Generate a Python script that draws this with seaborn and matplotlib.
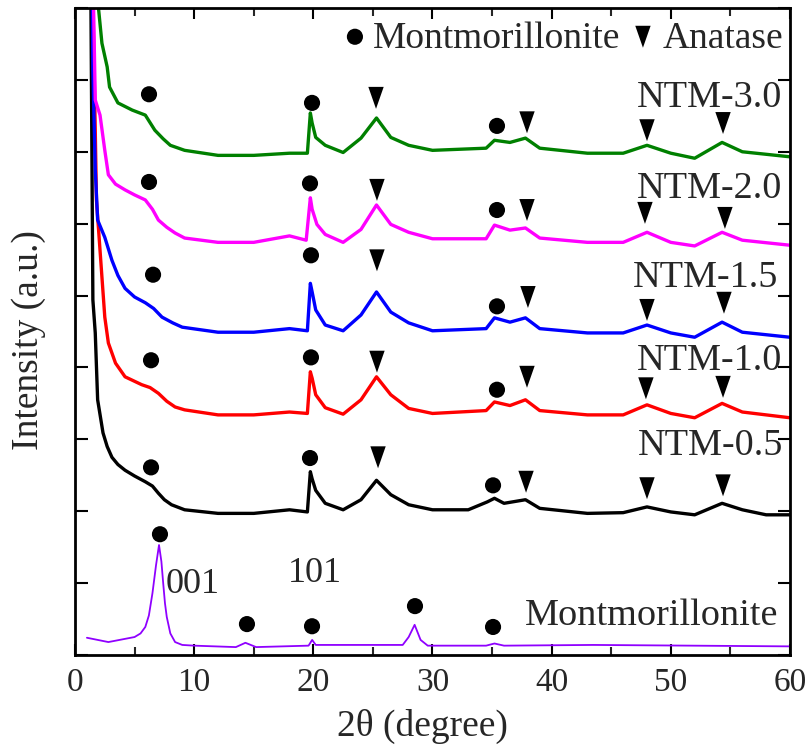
import matplotlib
matplotlib.use("Agg")
import matplotlib.pyplot as plt
import seaborn as sns
import pandas as pd
from matplotlib.ticker import MultipleLocator, NullFormatter

# ---------------- data ----------------
mmt_x = [1.0, 2.8, 5.0, 5.5, 5.9, 6.2, 6.5, 6.8, 7.05, 7.25, 7.4, 7.55, 7.7, 8.0, 8.4, 9.0, 10,
         13.5, 14.3, 15.2, 19.6, 19.9, 20.2, 27.5, 28.0, 28.5, 29.0, 29.6, 34.5, 35.2, 36, 43.5, 60]
mmt_y = [0.24, 0.18, 0.25, 0.30, 0.39, 0.55, 0.86, 1.25, 1.53, 1.30, 1.00, 0.72, 0.53, 0.30, 0.18, 0.14, 0.13,
         0.11, 0.17, 0.11, 0.13, 0.21, 0.14, 0.14, 0.25, 0.42, 0.21, 0.13, 0.13, 0.16, 0.13, 0.14, 0.12]

n05_x = [1.3, 1.5, 1.7, 1.9, 2.35, 2.7, 3.1, 3.6, 4.2, 5.0, 5.9, 6.5, 7.0, 7.5, 8.1, 9.2, 12, 15, 18, 19.5,
         19.75, 19.9, 20.2, 21, 22.5, 24, 25.3, 26.5, 28, 30, 33, 34.6, 35.2, 36, 37.8, 39, 43, 46, 48, 50,
         52, 54.3, 56, 58, 60]
n05_y = [10, 4.94, 4.48, 3.55, 3.09, 2.90, 2.75, 2.65, 2.57, 2.49, 2.41, 2.35, 2.25, 2.16, 2.09, 2.02, 1.97,
         1.97, 2.02, 1.99, 2.55, 2.45, 2.29, 2.11, 2.02, 2.16, 2.43, 2.23, 2.09, 2.02, 2.02, 2.13, 2.18, 2.11,
         2.16, 2.04, 1.97, 1.98, 2.06, 1.99, 1.95, 2.11, 2.02, 1.95, 1.95]

n10_x = [1.4, 1.7, 1.8, 2.1, 2.5, 2.8, 3.4, 4.2, 5.6, 6.3, 7.0, 7.7, 8.4, 9.2, 12, 15, 18, 19.5, 19.75, 19.9,
         20.2, 21, 22.5, 24, 25.3, 26.5, 28, 30, 34.5, 35.2, 36.5, 37.8, 39, 43, 46, 48, 50, 52, 54.3, 56, 60]
n10_y = [10, 7.30, 6.33, 5.63, 4.70, 4.34, 4.06, 3.87, 3.76, 3.72, 3.64, 3.53, 3.45, 3.41, 3.34, 3.34, 3.38,
         3.36, 3.94, 3.85, 3.62, 3.44, 3.35, 3.55, 3.87, 3.62, 3.43, 3.36, 3.40, 3.52, 3.47, 3.55, 3.40, 3.34,
         3.34, 3.48, 3.36, 3.30, 3.50, 3.38, 3.30]

n15_x = [1.4, 1.5, 1.7, 1.9, 2.5, 3.1, 3.6, 4.2, 5.0, 5.9, 6.6, 7.3, 8.2, 9.0, 12, 15, 18, 19.5, 19.75, 19.9,
         20.2, 21, 22.5, 24, 25.3, 26.5, 28, 30, 34.5, 35.2, 36.5, 37.8, 39, 43, 46, 48, 50, 52, 54.3, 56, 60]
n15_y = [10, 8.14, 6.75, 6.05, 5.81, 5.49, 5.28, 5.10, 4.98, 4.90, 4.82, 4.70, 4.62, 4.56, 4.49, 4.49, 4.54,
         4.51, 5.17, 5.05, 4.80, 4.59, 4.51, 4.73, 5.05, 4.77, 4.62, 4.51, 4.54, 4.69, 4.63, 4.69, 4.54, 4.48,
         4.48, 4.59, 4.48, 4.42, 4.63, 4.49, 4.42]

n20_x = [1.45, 1.7, 2.1, 2.5, 2.8, 3.4, 4.2, 5.0, 5.9, 6.5, 7.0, 7.7, 8.4, 9.2, 12, 15, 18, 19.4, 19.75, 19.9,
         20.3, 21, 22.5, 24, 25.3, 26.5, 28, 30, 34.5, 35.2, 36.5, 37.8, 39, 43, 46, 48, 50, 52, 54.3, 56, 60]
n20_y = [10, 7.72, 7.51, 7.02, 6.68, 6.55, 6.47, 6.40, 6.33, 6.20, 6.05, 5.95, 5.87, 5.80, 5.74, 5.74, 5.83,
         5.77, 6.36, 6.20, 5.99, 5.85, 5.74, 5.92, 6.26, 5.99, 5.88, 5.79, 5.79, 5.98, 5.91, 5.94, 5.80, 5.74,
         5.74, 5.88, 5.74, 5.69, 5.88, 5.77, 5.70]

n30_x = [1.85, 2.26, 2.7, 2.9, 3.6, 4.8, 5.9, 6.7, 7.4, 8.0, 9.2, 12, 15, 18, 19.5, 19.75, 19.9, 20.2, 21,
         22.5, 24, 25.3, 26.5, 28, 30, 34.5, 35.2, 36.5, 37.8, 39, 43, 46, 48, 50, 52, 54.3, 56, 60]
n30_y = [9.2, 8.51, 8.18, 7.90, 7.68, 7.58, 7.51, 7.30, 7.18, 7.09, 7.02, 6.95, 6.95, 6.98, 6.98, 7.54, 7.40,
         7.20, 7.09, 6.99, 7.19, 7.47, 7.20, 7.09, 7.02, 7.05, 7.16, 7.13, 7.19, 7.05, 6.98, 6.98, 7.09, 6.98,
         6.91, 7.13, 7.00, 6.93]

# peak markers: montmorillonite (circles) and anatase (triangles)
circle_x = [6.21, 19.89, 35.41, 6.21, 19.72, 35.41, 6.55, 19.80, 35.41, 6.38, 19.80, 35.41,
            6.38, 19.72, 35.08, 7.13, 14.43, 19.89, 28.53, 35.08]
circle_y = [7.80, 7.68, 7.36, 6.58, 6.56, 6.19, 5.29, 5.56, 4.85, 4.10, 4.14, 3.69,
            2.61, 2.74, 2.36, 1.68, 0.43, 0.40, 0.68, 0.39]
tri_x = [25.26, 37.93, 48.00, 54.38, 25.34, 37.93, 47.83, 54.54, 25.34, 38.01, 48.00, 54.46,
         25.34, 37.93, 47.91, 54.38, 25.43, 37.85, 48.00, 54.38]
tri_y = [7.75, 7.41, 7.30, 7.40, 6.47, 6.19, 6.15, 6.08, 5.49, 4.98, 4.80, 4.90,
         4.08, 3.87, 3.71, 3.73, 2.75, 2.41, 2.32, 2.36]

sample_names = ["NTM-3.0", "NTM-2.0", "NTM-1.5", "NTM-1.0", "NTM-0.5", "Montmorillonite"]
sample_label_x = [59.33, 59.33, 59.0, 59.33, 59.4, 59.0]
sample_label_y = [7.62, 6.36, 5.12, 3.96, 2.78, 0.42]

# ---------------- style ----------------
sns.set_theme(style="ticks")
plt.rcParams["font.family"] = ["Liberation Serif", "DejaVu Serif"]

fig = plt.figure(figsize=(8.12, 7.53), dpi=100)
ax = fig.add_axes([75 / 812, 98 / 753, 715 / 812, 647 / 753])

curves = [
    (mmt_x, mmt_y, "#8F00FF", 1.3),
    (n05_x, n05_y, "black", 2.4),
    (n10_x, n10_y, "#FF0000", 2.4),
    (n15_x, n15_y, "#0000FF", 2.4),
    (n20_x, n20_y, "#FF00FF", 2.4),
    (n30_x, n30_y, "#008000", 2.4),
]
for xs, ys, col, lw in curves:
    df = pd.DataFrame({"x": xs, "y": ys})
    sns.lineplot(data=df, x="x", y="y", ax=ax, color=col, lw=lw, sort=False, estimator=None)

tri_marker = [(-0.7, 1.0), (0.7, 1.0), (0.0, -1.0), (-0.7, 1.0)]
sns.scatterplot(x=circle_x, y=circle_y, ax=ax, marker="o", s=135, color="black", edgecolor="none", zorder=5)
sns.scatterplot(x=tri_x, y=tri_y, ax=ax, marker=tri_marker, s=250, color="black", edgecolor="none", zorder=5)

# legend-like header
sns.scatterplot(x=[23.49], y=[8.60], ax=ax, marker="o", s=135, color="black", edgecolor="none", zorder=5)
sns.scatterplot(x=[47.66], y=[8.60], ax=ax, marker=tri_marker, s=250, color="black", edgecolor="none", zorder=5)
ax.text(25.0, 8.44, "Montmorillonite", fontsize=27, ha="left", va="baseline")
ax.text(49.3, 8.44, "Anatase", fontsize=27, ha="left", va="baseline")

for name, lx, ly in zip(sample_names, sample_label_x, sample_label_y):
    ax.text(lx, ly, name, fontsize=27.5, ha="right", va="baseline")

ax.text(7.64, 0.86, "001", fontsize=26, ha="left", va="baseline")
ax.text(17.87, 1.02, "101", fontsize=26, ha="left", va="baseline")

ax.set_xlim(0, 60)
ax.set_ylim(0, 9)
ax.xaxis.set_major_locator(MultipleLocator(10))
ax.xaxis.set_minor_locator(MultipleLocator(5))
ax.yaxis.set_major_locator(MultipleLocator(1))
ax.yaxis.set_major_formatter(NullFormatter())
ax.tick_params(axis="both", which="major", direction="in", length=8, width=1.5,
               top=True, right=True, labelsize=24, pad=9, color="black")
ax.tick_params(axis="x", which="minor", direction="in", length=6, width=1.5, top=True, bottom=True)
ax.tick_params(axis="y", which="major", length=9)
for sp in ax.spines.values():
    sp.set_linewidth(2)
    sp.set_color("black")

ax.set_xlabel("2θ (degree)", fontsize=27)
ax.set_ylabel("Intensity (a.u.)", fontsize=27)
ax.xaxis.set_label_coords(0.486, -0.083)
ax.yaxis.set_label_coords(-0.04, 0.487)

fig.savefig("out.png", dpi=100)
